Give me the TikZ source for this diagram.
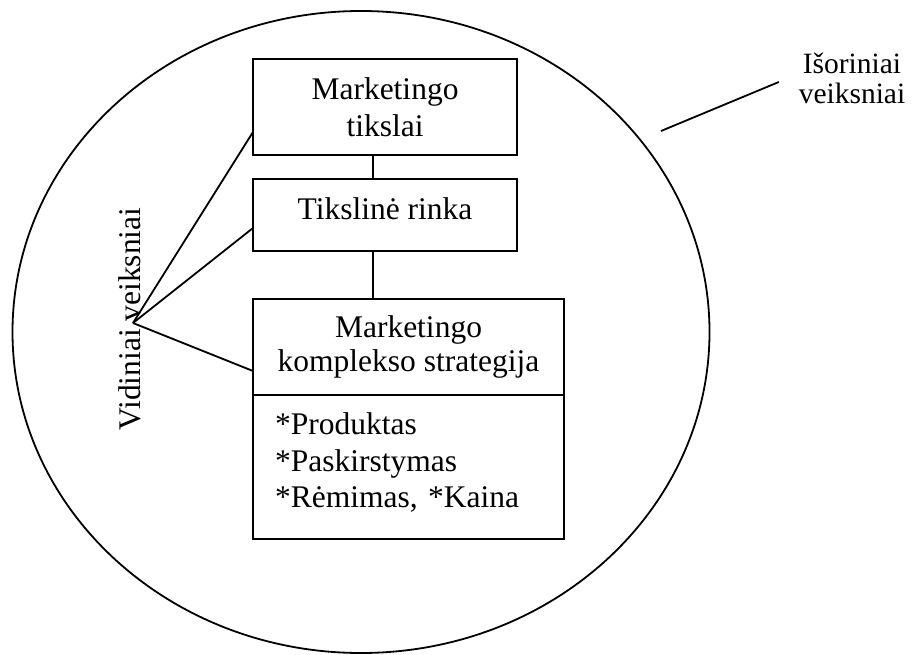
\documentclass[tikz,border=0pt]{standalone}
\usepackage{fontspec}
\setmainfont{Liberation Serif}
\usetikzlibrary{positioning}

\begin{document}
\begin{tikzpicture}[x=1pt,y=-1pt,line width=1.8pt,
  blok/.style={draw,rectangle,inner sep=0pt,outer sep=0pt,align=center,
    font=\fontsize{31.5}{37}\selectfont}]
\useasboundingbox (0,0) rectangle (912,655);
\draw (361,332) ellipse [x radius=348.5pt,y radius=321pt];

\node[blok,minimum width=264pt,minimum height=96pt] (tikslai) at (385,107) {Marketingo\\tikslai};
\node[blok,minimum width=264pt,minimum height=72pt,text depth=12pt,below=24pt of tikslai] (rinka) {Tikslinė rinka};
\node[blok,minimum width=311pt,minimum height=96pt,font=\fontsize{31.5}{34}\selectfont,
  below right=48pt and 0pt of rinka.south west] (mixhead) {Marketingo\\komplekso strategija};
\node[blok,minimum width=311pt,minimum height=144pt,align=left,text width=267pt,inner xsep=22pt,
  text depth=86.5pt,font=\fontsize{31.5}{36.5}\selectfont,below=0pt of mixhead] (mixlist)
  {*Produktas\\{}*Paskirstymas\\{}*Rėmimas, *Kaina};

\coordinate (spine) at (373,0);
\draw (tikslai.south -| spine) -- (rinka.north -| spine);
\draw (rinka.south -| spine) -- (mixhead.north -| spine);

\node[rotate=90,anchor=base,inner sep=0pt,font=\fontsize{31.5}{37}\selectfont] (vidiniai) at (140,319) {Vidiniai veiksniai};
\coordinate (vidtip) at (133,323);
\foreach \b/\s in {tikslai/23,rinka/23,mixhead/24}
  \draw (vidtip) -- ([yshift=\s pt]\b.south west);

\node[inner sep=0pt,align=center,font=\fontsize{29.5}{30}\selectfont] (isoriniai) at (852,78) {Išoriniai\\veiksniai};
\coordinate (outtick) at (661,131);
\draw (outtick) -- ([shift={(-19pt,-4pt)}]isoriniai.west);
\end{tikzpicture}
\end{document}
